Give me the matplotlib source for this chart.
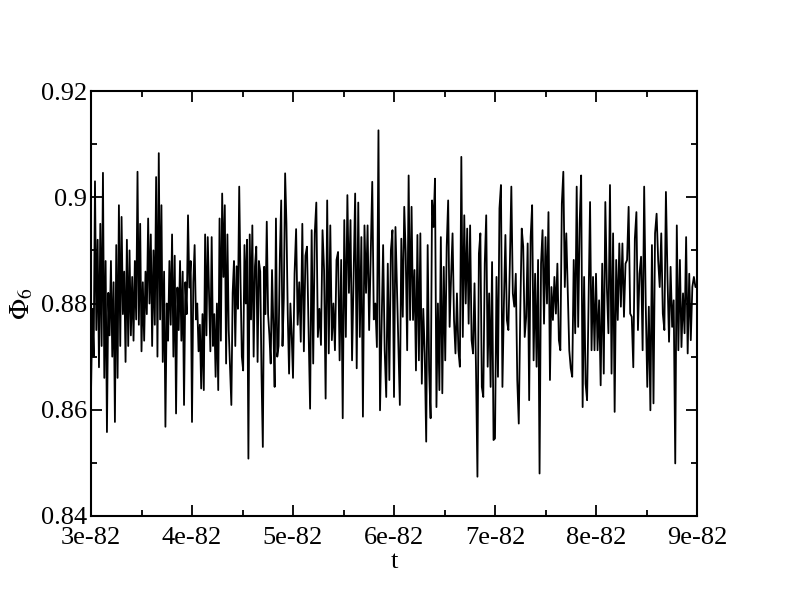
import numpy as np
import matplotlib
matplotlib.use("Agg")
import matplotlib.pyplot as plt
from matplotlib.ticker import MultipleLocator

# Phi_6 values, one list per 1e-82 interval of t
phi_a = [0.863, 0.879, 0.870, 0.903, 0.875, 0.892, 0.868, 0.895, 0.872, 0.9046, 0.866, 0.888,
         0.8558, 0.882, 0.874, 0.888, 0.870, 0.884, 0.8577, 0.891, 0.866, 0.8985, 0.872, 0.8963,
         0.878, 0.886, 0.869, 0.892, 0.872, 0.890, 0.874, 0.885, 0.873, 0.888, 0.877, 0.9048,
         0.876, 0.895, 0.871, 0.884, 0.873, 0.886, 0.878, 0.896, 0.880, 0.893, 0.872, 0.890,
         0.876, 0.9038, 0.870, 0.9083, 0.877, 0.8985, 0.869, 0.886, 0.8568, 0.880, 0.873, 0.888,
         0.876, 0.893, 0.870, 0.889, 0.8593, 0.883, 0.875, 0.888, 0.873, 0.886, 0.8609, 0.884,
         0.878, 0.8966, 0.883, 0.888]
phi_b = [0.8577, 0.884, 0.891, 0.877, 0.880, 0.871, 0.876, 0.864, 0.878, 0.8637, 0.893, 0.874,
         0.8925, 0.882, 0.871, 0.8925, 0.872, 0.878, 0.8662, 0.880, 0.8637, 0.896, 0.873, 0.9007,
         0.885, 0.8985, 0.8687, 0.893, 0.875, 0.868, 0.8609, 0.882, 0.888, 0.872, 0.887, 0.879,
         0.902, 0.884, 0.870, 0.8674, 0.891, 0.880, 0.892, 0.8508, 0.893, 0.877, 0.8947, 0.870,
         0.887, 0.8907, 0.869, 0.888, 0.886, 0.8665, 0.8530, 0.8869, 0.878, 0.8954, 0.878, 0.874,
         0.8687, 0.8863, 0.876, 0.8643, 0.896, 0.870, 0.872, 0.889, 0.8994, 0.872, 0.881, 0.9045,
         0.895, 0.878, 0.8668, 0.880, 0.874]
phi_c = [0.866, 0.8856, 0.894, 0.876, 0.884, 0.8728, 0.895, 0.871, 0.889, 0.8907, 0.875, 0.8602,
         0.8938, 0.8687, 0.8932, 0.899, 0.8737, 0.879, 0.8722, 0.8938, 0.8863, 0.8621, 0.8994,
         0.8706, 0.8947, 0.8731, 0.880, 0.8712, 0.8882, 0.8897, 0.8693, 0.8882, 0.8584, 0.8957,
         0.8737, 0.9004, 0.882, 0.8957, 0.8693, 0.885, 0.9007, 0.8678, 0.899, 0.8737, 0.8925,
         0.8587, 0.8947, 0.882, 0.8947, 0.875, 0.889, 0.9029, 0.877, 0.880, 0.8718, 0.9126,
         0.8599, 0.8756, 0.891, 0.8712, 0.8624, 0.8875, 0.8656, 0.890, 0.8938]
phi_d = [0.8624, 0.8944, 0.883, 0.8712, 0.8609, 0.8922, 0.8775, 0.8982, 0.8894, 0.8712, 0.9041,
         0.8769, 0.8982, 0.8769, 0.8863, 0.8674, 0.8929, 0.8693, 0.8932, 0.8649, 0.879, 0.8706,
         0.854, 0.891, 0.8674, 0.8584, 0.8994, 0.8944, 0.9035, 0.8605, 0.880, 0.8637, 0.8925,
         0.8631, 0.8869, 0.8693, 0.8907, 0.8994, 0.8756, 0.885, 0.8932, 0.8769, 0.8706, 0.8819,
         0.8712, 0.8681, 0.9076, 0.8737, 0.8966, 0.880, 0.8941, 0.8762, 0.8947, 0.8731, 0.8706,
         0.8838, 0.8681, 0.8474, 0.8894, 0.8932, 0.8643, 0.8624, 0.8875, 0.8966, 0.8681, 0.8819,
         0.8643, 0.8878, 0.8543]
phi_e = [0.8546, 0.885, 0.8662, 0.8979, 0.9023, 0.8643, 0.880, 0.8929, 0.8769, 0.875, 0.8875,
         0.902, 0.8819, 0.8794, 0.8856, 0.8656, 0.8574, 0.8781, 0.8941, 0.8907, 0.8737, 0.8775,
         0.8913, 0.8618, 0.8925, 0.8985, 0.8693, 0.8856, 0.8681, 0.8882, 0.848, 0.8875, 0.8938,
         0.8762, 0.8925, 0.880, 0.8972, 0.8656, 0.8831, 0.8769, 0.885, 0.8781, 0.8875, 0.8731,
         0.8712, 0.8988, 0.9048, 0.8831, 0.8932, 0.8819, 0.8712, 0.8678, 0.8662, 0.8882, 0.8744,
         0.902, 0.8756, 0.8951, 0.9041, 0.8605, 0.885, 0.8649, 0.8618, 0.8806, 0.8991, 0.8712,
         0.885, 0.8712]
phi_f = [0.8856, 0.8712, 0.8806, 0.8646, 0.8875, 0.8668, 0.8991, 0.8831, 0.8744, 0.9023, 0.8668,
         0.8932, 0.8596, 0.8882, 0.8769, 0.8913, 0.8794, 0.8913, 0.8775, 0.8875, 0.8882, 0.8982,
         0.8781, 0.8775, 0.868, 0.8922, 0.8972, 0.875, 0.8856, 0.8888, 0.8712, 0.902, 0.880,
         0.8643, 0.8794, 0.8599, 0.891, 0.8612, 0.8932, 0.8969, 0.8882, 0.8831, 0.8932, 0.8781,
         0.875, 0.901, 0.885, 0.8728, 0.8869, 0.8756, 0.8806, 0.8499, 0.8947, 0.8712, 0.8882,
         0.8718, 0.8819, 0.8744, 0.8925, 0.8706, 0.8856, 0.8731, 0.8831, 0.885, 0.8831]

segments = [phi_a, phi_b, phi_c, phi_d, phi_e, phi_f]
seg_starts = [3, 4, 5, 6, 7, 8]   # in units of 1e-82

x_ticks = [3, 4, 5, 6, 7, 8, 9]
x_labels = ["3e-82", "4e-82", "5e-82", "6e-82", "7e-82", "8e-82", "9e-82"]
y_ticks = [0.84, 0.86, 0.88, 0.9, 0.92]
y_labels = ["0.84", "0.86", "0.88", "0.9", "0.92"]

t = []
phi = []
for s0, seg in zip(seg_starts, segments):
    t.extend(np.linspace(s0, s0 + 1, len(seg), endpoint=False))
    phi.extend(seg)
t.append(9)
phi.append(phi_f[-1])

plt.rcParams['font.family'] = ['Liberation Serif', 'DejaVu Serif']
plt.rcParams['mathtext.fontset'] = 'stix'

fig = plt.figure(figsize=(7.92, 6.07), dpi=100)
ax = fig.add_axes([91/792, 1-516/607, 606/792, 425/607])
ax.plot(t, phi, color='black', lw=1.3)

ax.set_xlim(3, 9)
ax.set_ylim(0.84, 0.92)
ax.set_xticks(x_ticks)
ax.set_xticklabels(x_labels)
ax.set_yticks(y_ticks)
ax.set_yticklabels(y_labels)
ax.xaxis.set_minor_locator(MultipleLocator(0.5))
ax.yaxis.set_minor_locator(MultipleLocator(0.01))
ax.tick_params(which='both', direction='in', top=True, right=True, labelsize=19, width=1.3)
ax.tick_params(which='major', length=8, pad=3)
ax.tick_params(which='minor', length=4.5)
ax.tick_params(axis='x', which='major', pad=8)
for sp in ax.spines.values():
    sp.set_linewidth(1.5)

ax.set_xlabel("t", fontsize=19, labelpad=1)
ax.set_ylabel(r"$\Phi_6$", fontsize=20, labelpad=4)

fig.savefig("out.png", dpi=100)
